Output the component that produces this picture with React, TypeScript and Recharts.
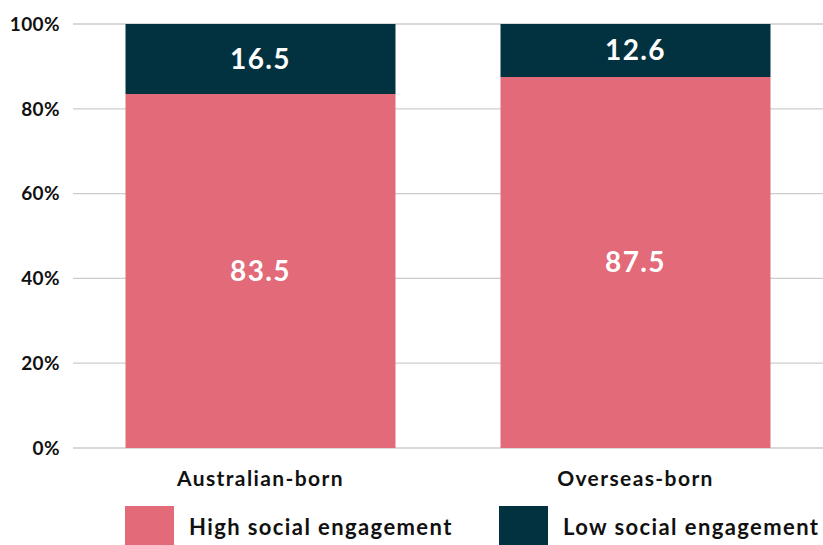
import React from "react";
import { BarChart, Bar, XAxis, YAxis, CartesianGrid, Legend, LabelList } from "recharts";

const categories = ["Australian-born", "Overseas-born"];
const highEngagement = [83.5, 87.5];
const lowEngagement = [16.5, 12.6];
const yTicks = [0, 20, 40, 60, 80, 100];
const seriesNames = ["High social engagement", "Low social engagement"];
const seriesColors = ["#E26A79", "#02323F"];

const data = categories.map((c, i) => ({
  name: c,
  high: highEngagement[i],
  low: lowEngagement[i],
}));

const FONT = "Lato, 'Open Sans', sans-serif";

const LegendContent = () => (
  <div style={{ position: "relative", width: 823, height: 47, fontFamily: FONT }}>
    {seriesNames.map((n, i) => (
      <div key={n} style={{ position: "absolute", left: i === 0 ? 125 : 499, top: 8, display: "flex", alignItems: "center" }}>
        <div style={{ width: 49, height: 40, background: seriesColors[i] }} />
        <span style={{ marginLeft: 15, fontSize: 22, fontWeight: 700, color: "#111", letterSpacing: 1.4 }}>{n}</span>
      </div>
    ))}
  </div>
);

export default function App() {
  return (
    <div style={{ position: "absolute", left: 0, top: 0, background: "#fff" }}>
      <BarChart
        width={823}
        height={545}
        data={data}
        margin={{ top: 24, right: 0, left: 0, bottom: 0 }}
        barCategoryGap="14%"
      >
        <CartesianGrid vertical={false} stroke="#cccccc" strokeWidth={1.3} />
        <XAxis
          dataKey="name"
          axisLine={false}
          tickLine={false}
          height={50}
          tickMargin={17}
          tick={{ fill: "#111", fontSize: 21, fontWeight: 700, fontFamily: FONT, letterSpacing: 1.4 }}
        />
        <YAxis
          width={73}
          domain={[0, 100]}
          ticks={yTicks}
          allowDataOverflow
          axisLine={false}
          tickLine={false}
          tickMargin={7}
          tickFormatter={(v: number) => `${v}%`}
          tick={{ fill: "#111", fontSize: 19, fontWeight: 700, fontFamily: FONT, letterSpacing: 0.4 }}
        />
        <Legend
          verticalAlign="bottom"
          content={<LegendContent />}
          wrapperStyle={{ left: 0, width: 823 }}
        />
        <Bar dataKey="high" name={seriesNames[0]} stackId="a" fill={seriesColors[0]} isAnimationActive={false}>
          <LabelList dataKey="high" position="center" fill="#fff" fontSize={28} fontWeight={700} fontFamily={FONT} letterSpacing={1.4} />
        </Bar>
        <Bar dataKey="low" name={seriesNames[1]} stackId="a" fill={seriesColors[1]} isAnimationActive={false}>
          <LabelList dataKey="low" position="center" fill="#fff" fontSize={28} fontWeight={700} fontFamily={FONT} letterSpacing={1.4} />
        </Bar>
      </BarChart>
    </div>
  );
}
